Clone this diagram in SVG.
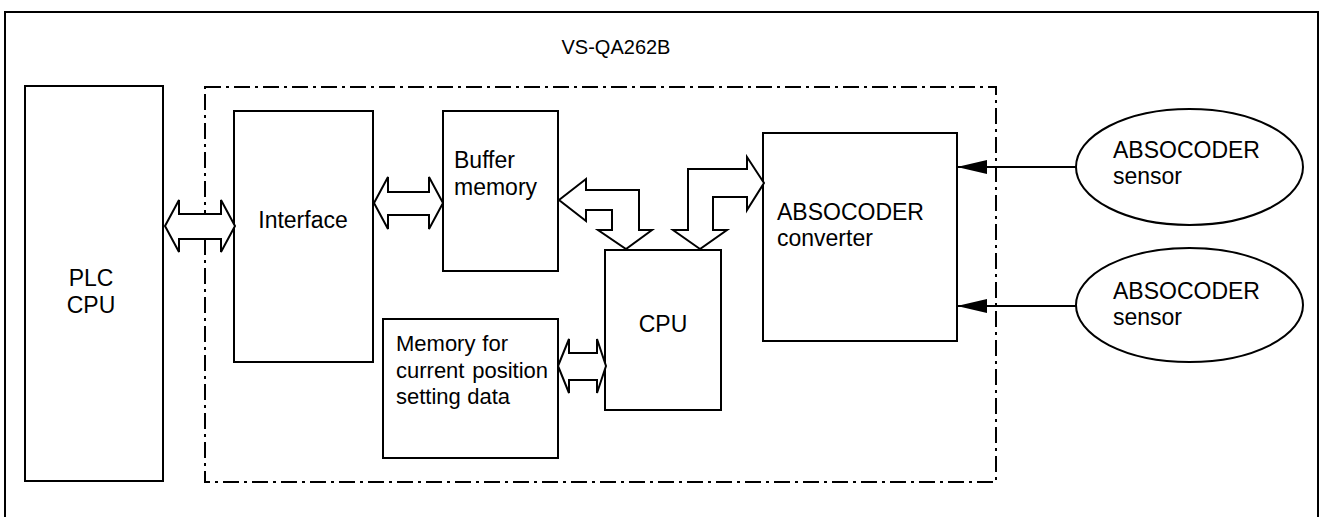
<svg xmlns="http://www.w3.org/2000/svg" width="1321" height="517" viewBox="0 0 1321 517">
<style>
.box{fill:#fff;stroke:#000;stroke-width:2}
.frame{fill:none;stroke:#000;stroke-width:2}
.dash{fill:none;stroke:#000;stroke-width:2;stroke-dasharray:16 5 3 5}
.arr{fill:#fff;stroke:#000;stroke-width:2;stroke-linejoin:miter}
.ln{fill:none;stroke:#000;stroke-width:2}
text{font-family:"Liberation Sans",Arial,sans-serif;font-size:23px;fill:#000}
.sm{font-size:22px}
.ttl{font-size:20px}
</style>
<defs>
<marker id="tri" viewBox="0 0 30 14" refX="29" refY="7" markerWidth="30" markerHeight="14" markerUnits="userSpaceOnUse" orient="auto">
<path d="M0,0 L30,7 L0,14 Z" fill="#000"/>
</marker>
</defs>
<rect class="frame" x="5" y="12" width="1313" height="530"/>
<g id="module">
<rect class="dash" x="205" y="87" width="791" height="395"/>
<text class="ttl" x="616" y="54" text-anchor="middle">VS-QA262B</text>
</g>
<g id="plc">
<rect class="box" x="25" y="86" width="138" height="395"/>
<text x="91" y="286" text-anchor="middle">PLC</text>
<text x="91" y="313" text-anchor="middle">CPU</text>
</g>
<g id="interface">
<rect class="box" x="234" y="111" width="139" height="251"/>
<text x="303" y="228" text-anchor="middle">Interface</text>
</g>
<g id="buffer">
<rect class="box" x="443" y="111" width="115" height="160"/>
<text x="454" y="168">Buffer</text>
<text x="454" y="195">memory</text>
</g>
<g id="cpu">
<rect class="box" x="605" y="250" width="116" height="160"/>
<text x="663" y="332" text-anchor="middle">CPU</text>
</g>
<g id="memory">
<rect class="box" x="383" y="319" width="175" height="139"/>
<text class="sm"><tspan x="396" y="351">Memory</tspan> <tspan x="508" y="351" text-anchor="end">for</tspan></text>
<text class="sm"><tspan x="396" y="378">current</tspan> <tspan x="548" y="378" text-anchor="end">position</tspan></text>
<text class="sm"><tspan x="396" y="404">setting</tspan> <tspan x="510" y="404" text-anchor="end">data</tspan></text>
</g>
<g id="converter">
<rect class="box" x="763" y="133" width="194" height="208"/>
<text x="777" y="220">ABSOCODER</text>
<text x="777" y="246">converter</text>
</g>
<g id="sensor1">
<ellipse class="box" cx="1189.5" cy="167" rx="113.5" ry="58"/>
<text x="1113" y="158">ABSOCODER</text>
<text x="1113" y="184">sensor</text>
</g>
<g id="sensor2">
<ellipse class="box" cx="1189.5" cy="305" rx="113.5" ry="57"/>
<text x="1113" y="299">ABSOCODER</text>
<text x="1113" y="325">sensor</text>
</g>
<g id="connectors">
<polygon class="arr" points="165,226 179,200 179,214 221,214 221,200 235,226 221,252 221,239 179,239 179,252"/>
<polygon class="arr" points="374,203 388,177 388,192 429,192 429,177 443,203 429,229 429,215 388,215 388,229"/>
<polygon class="arr" points="559,200 586,179 586,190 639,190 639,230 652,230 626,249 598,230 612,230 612,210 586,210 586,221"/>
<polygon class="arr" points="700,249 673,230 688,230 688,169 747,169 747,157 764,183 747,210 747,197 713,197 713,230 727,230"/>
<polygon class="arr" points="558,366 569,339 569,353 597,353 597,339 606,366 597,393 597,380 569,380 569,393"/>
<line class="ln" x1="1076" y1="167" x2="958" y2="167" marker-end="url(#tri)"/>
<line class="ln" x1="1076" y1="306" x2="958" y2="306" marker-end="url(#tri)"/>
</g>
</svg>
